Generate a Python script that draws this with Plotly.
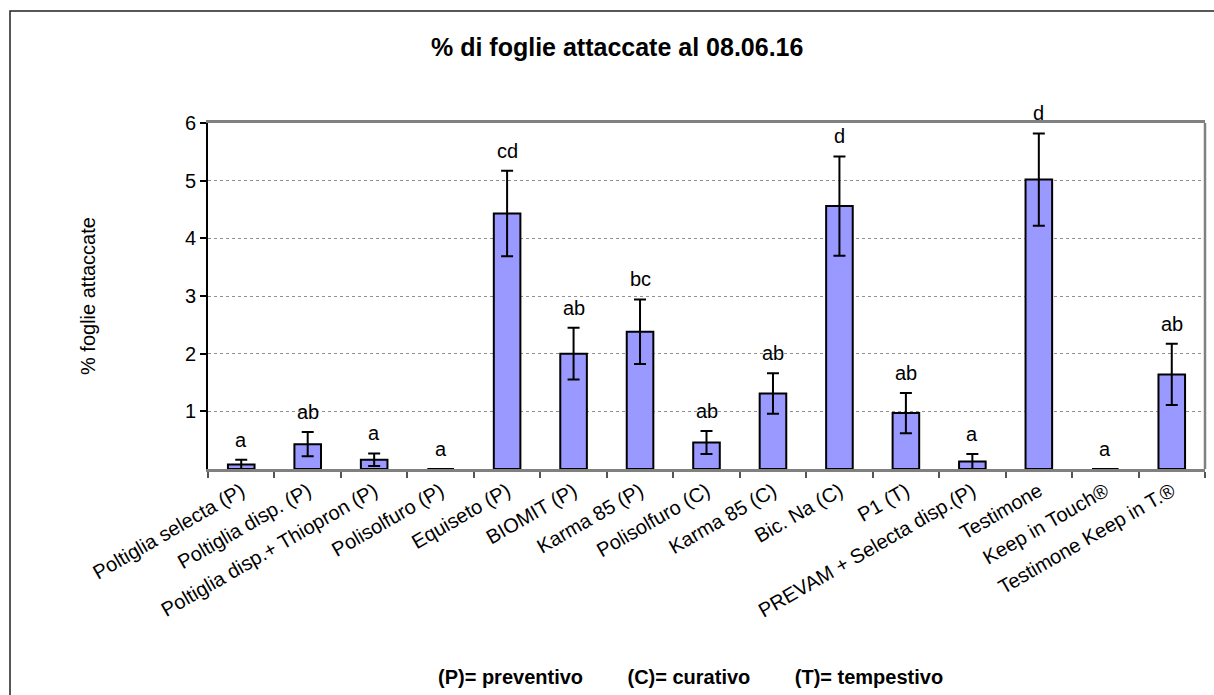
import plotly.graph_objects as go

categories = [
    "Poltiglia selecta (P)", "Poltiglia disp. (P)", "Poltiglia disp.+ Thiopron (P)",
    "Polisolfuro (P)", "Equiseto (P)", "BIOMIT (P)", "Karma 85 (P)", "Polisolfuro (C)",
    "Karma 85 (C)", "Bic. Na (C)", "P1 (T)", "PREVAM + Selecta disp.(P)", "Testimone",
    "Keep in Touch®", "Testimone Keep in T.®",
]
values = [0.08, 0.43, 0.16, 0.0, 4.43, 2.00, 2.38, 0.46, 1.31, 4.56, 0.97, 0.13, 5.02, 0.0, 1.64]
errors = [0.08, 0.21, 0.11, 0.0, 0.74, 0.45, 0.56, 0.20, 0.35, 0.86, 0.35, 0.13, 0.80, 0.0, 0.53]
letters = ["a", "ab", "a", "a", "cd", "ab", "bc", "ab", "ab", "d", "ab", "a", "d", "a", "ab"]

FONT = "Liberation Sans, Arial, sans-serif"

fig = go.Figure()
fig.add_trace(go.Bar(
    x=categories, y=values,
    marker=dict(color="#9999FF", line=dict(color="black", width=2)),
    error_y=dict(type="data", array=errors, visible=True, color="black", thickness=2, width=6),
    width=0.4,
    showlegend=False,
))

annotations = []
for c, v, e, l in zip(categories, values, errors, letters):
    annotations.append(dict(
        x=c, y=v + e, xref="x", yref="y", text=l, showarrow=False,
        yanchor="bottom", yshift=7, font=dict(family=FONT, size=20, color="black"),
    ))

# plot geometry in pixels
W, H = 1214, 695
L, R, T, B = 208, 9, 123, 226
pw = W - L - R
ph = H - T - B

annotations.append(dict(
    text="<b>% di foglie attaccate al 08.06.16</b>", xref="paper", yref="paper",
    x=(617 - L) / pw, y=1 + (T - 47) / ph, showarrow=False, xanchor="center", yanchor="middle",
    font=dict(family=FONT, size=25, color="black"),
))
annotations.append(dict(
    text="% foglie attaccate", xref="paper", yref="paper", textangle=-90,
    x=(88 - L) / pw, y=0.5, showarrow=False, xanchor="center", yanchor="middle",
    font=dict(family=FONT, size=20, color="black"),
))
sp = "\u00a0" * 8
annotations.append(dict(
    text="<b>(P)= preventivo" + sp + "(C)= curativo" + sp + "(T)= tempestivo</b>",
    xref="paper", yref="paper",
    x=(690 - L) / pw, y=-(677 - (T + ph)) / ph, showarrow=False, xanchor="center", yanchor="middle",
    font=dict(family=FONT, size=20, color="black"),
))

shapes = [
    # outer chart border (right and bottom lie outside the picture)
    dict(type="rect", xref="paper", yref="paper",
         x0=(10 - L) / pw, x1=1.2, y0=-1.5, y1=1 + (T - 11) / ph,
         line=dict(color="#222222", width=1.5), fillcolor="rgba(0,0,0,0)", layer="above"),
    # plot area right border
    dict(type="line", xref="paper", yref="paper", x0=1, x1=1, y0=0, y1=1,
         line=dict(color="#808080", width=2.5), layer="above"),
]

fig.update_layout(
    width=W, height=H,
    margin=dict(l=L, r=R, t=T, b=B),
    paper_bgcolor="white", plot_bgcolor="white",
    font=dict(family=FONT, size=20, color="black"),
    annotations=annotations,
    shapes=shapes,
    bargap=0.6,
)
fig.update_xaxes(
    type="category", tickangle=-30, tickson="boundaries",
    ticks="outside", ticklen=6, tickcolor="#555555", tickwidth=1.5,
    showline=True, linecolor="#808080", linewidth=2.5, mirror=True,
    showgrid=False, tickfont=dict(family=FONT, size=20, color="black"),
    automargin=False,
)
fig.update_yaxes(
    range=[0, 6], tickvals=[1, 2, 3, 4, 5, 6],
    ticks="outside", ticklen=6, tickcolor="black", tickwidth=1.5,
    showline=True, linecolor="black", linewidth=2,
    showgrid=True, gridcolor="#909090", gridwidth=1, griddash="dot",
    zeroline=False, tickfont=dict(family=FONT, size=20, color="black"),
    automargin=False,
)

fig.write_html("out.html")
